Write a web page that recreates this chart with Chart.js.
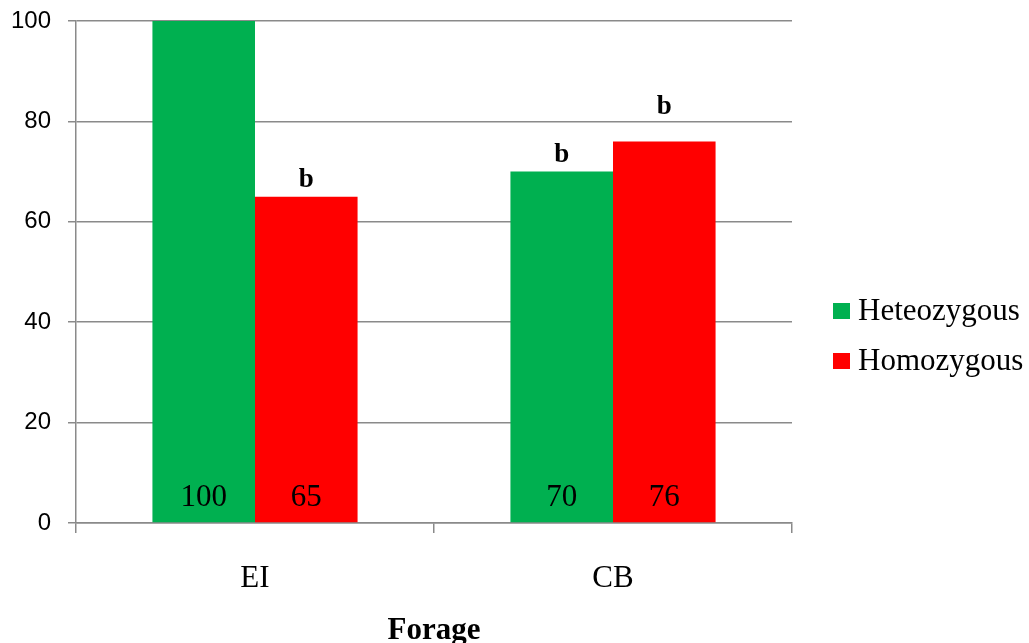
<!DOCTYPE html>
<html>
<head>
<meta charset="utf-8">
<script src="https://cdn.jsdelivr.net/npm/chart.js@4/dist/chart.umd.min.js"></script>
<style>
  html, body { margin: 0; padding: 0; background: #fff; }
  #wrap { width: 1029px; height: 643px; }
</style>
</head>
<body>
<div id="wrap"><canvas id="forageChart" width="1029" height="643"></canvas></div>
<script>
// forage groups and survival values
var forage = ['EI', 'CB'];
var heteozygous = [100, 70];
var homozygous = [65, 76];
// significance letters over the bars ('' = none)
var heteoLetters = ['', 'b'];
var homoLetters = ['b', 'b'];
var yTicks = [0, 20, 40, 60, 80, 100];

var serif = '"Liberation Serif", "Times New Roman", serif';
var gridColor = '#8a8a8a';

// lift of each letter above its bar, px
var letterLift = [[10, 10], [10, 27]];

var barText = {
    id: 'barText',
    afterDatasetsDraw: function (chart) {
        var ctx = chart.ctx;
        var zero = chart.scales.y.getPixelForValue(0);
        var letters = [heteoLetters, homoLetters];
        ctx.save();
        ctx.textAlign = 'center';
        ctx.textBaseline = 'alphabetic';
        ctx.fillStyle = '#000';
        chart.data.datasets.forEach(function (ds, di) {
            chart.getDatasetMeta(di).data.forEach(function (bar, i) {
                ctx.font = '31px ' + serif;
                ctx.fillText(String(ds.data[i]), bar.x, zero - 17);
                if (letters[di][i]) {
                    ctx.font = 'bold 27px ' + serif;
                    ctx.fillText(letters[di][i], bar.x, bar.y - letterLift[di][i]);
                }
            });
        });
        ctx.restore();
    },
    afterDraw: function (chart) {
        var ctx = chart.ctx;
        var area = chart.chartArea;
        ctx.save();
        // axis title
        ctx.fillStyle = '#000';
        ctx.textAlign = 'center';
        ctx.textBaseline = 'alphabetic';
        ctx.font = 'bold 31px ' + serif;
        ctx.fillText('Forage', (area.left + area.right) / 2, 639);
        // legend
        ctx.textAlign = 'left';
        ctx.font = '31px ' + serif;
        chart.data.datasets.forEach(function (ds, di) {
            var cy = 311 + di * 50;
            ctx.fillStyle = ds.backgroundColor;
            ctx.fillRect(833, cy - 8, 17, 16);
            ctx.fillStyle = '#000';
            ctx.fillText(ds.label, 858, cy + 9);
        });
        ctx.restore();
    }
};

new Chart('forageChart', {
    type: 'bar',
    data: {
        labels: forage,
        datasets: [{
            label: 'Heteozygous',
            data: heteozygous,
            backgroundColor: '#00b050'
        }, {
            label: 'Homozygous',
            data: homozygous,
            backgroundColor: '#ff0000'
        }]
    },
    options: {
        responsive: false,
        animation: false,
        layout: { padding: { left: 0, right: 237, top: 21, bottom: 0 } },
        categoryPercentage: 0.573,
        barPercentage: 1,
        plugins: {
            legend: { display: false },
            tooltip: { enabled: false }
        },
        scales: {
            x: {
                afterFit: function (scale) {
                    scale.height = 120;
                    scale.paddingLeft = 0;
                    scale.paddingRight = 0;
                },
                grid: {
                    display: true,
                    drawOnChartArea: false,
                    offset: true,
                    color: gridColor,
                    lineWidth: 1.5,
                    tickLength: 10
                },
                border: { display: true, color: gridColor, width: 1.5 },
                ticks: {
                    color: '#000',
                    font: { family: serif, size: 31 },
                    padding: 27
                }
            },
            y: {
                min: 0,
                max: 100,
                afterFit: function (scale) {
                    scale.width = 76;
                    scale.paddingTop = 0;
                    scale.paddingBottom = 0;
                },
                afterBuildTicks: function (scale) {
                    scale.ticks = yTicks.map(function (v) { return { value: v }; });
                },
                grid: {
                    color: gridColor,
                    lineWidth: 1.5,
                    tickLength: 8
                },
                border: { display: true, color: gridColor, width: 1.5 },
                ticks: {
                    color: '#000',
                    font: { family: '"Liberation Sans", Arial, sans-serif', size: 24 },
                    padding: 17
                }
            }
        }
    },
    plugins: [barText]
});
</script>
</body>
</html>
